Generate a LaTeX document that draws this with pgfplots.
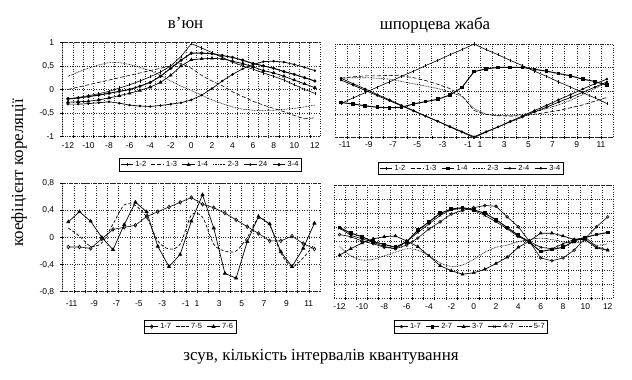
\documentclass[border=0pt]{standalone}
\usepackage{fontspec}
\setmainfont{Liberation Serif}
\newfontfamily\arial{Liberation Sans}
\usepackage{pgfplots}
\usepackage{pgfplotstable}
\pgfplotsset{compat=1.18}
\tikzset{gridline/.style={black!85, line width=0.45pt, dash pattern=on 0.9pt off 1.5pt}}
\pgfplotsset{
  legend image code/.code={\draw[mark repeat=2,mark phase=2,#1] plot coordinates {(0cm,0cm) (0.22cm,0cm) (0.44cm,0cm)};},
  panel/.style={
    scale only axis,
    anchor=south west,
    axis line style={gridline},
    tick label style={font=\arial\fontsize{8.5}{9}\selectfont},
    /pgf/number format/assume math mode=true,
    ymajorgrids, major grid style={gridline},
    major tick length=0pt,
    xtick pos=bottom, ytick pos=left,
    extra x tick labels={},
    extra x tick style={grid=major, tick align=center, major tick length=2.5pt, tick style={black, line width=0.4pt}},
    yticklabel style={xshift=-5bp},
    legend style={draw=black, line width=0.6pt, inner sep=1pt, row sep=-1pt, anchor=north,
      font=\arial\fontsize{7.5}{8}\selectfont, /tikz/every even column/.append style={column sep=3pt}},
    legend cell align=left,
  },
  yticksmarks/.style={extra y tick labels={},
    extra y tick style={major tick length=3pt, tick align=outside, tick style={black, line width=0.5pt}}},
  s12/.style={black, line width=0.6pt, mark=|, mark size=1.6pt, mark options={solid}},
  s13/.style={black, line width=0.6pt, dash pattern=on 4pt off 2pt},
  s14/.style={black, line width=0.7pt, mark=triangle*, mark size=1.6pt, mark options={solid}},
  s23/.style={black, line width=0.6pt, dash pattern=on 0.8pt off 0.8pt},
  s24/.style={black, line width=0.7pt, mark=*, mark size=0.9pt, mark options={solid}},
  s34/.style={black, line width=1pt, mark=*, mark size=1.1pt, mark options={solid}},
}

\pgfplotstableread{
x a12 a13 a14 a23 a24 a34
-12 -0.20 0.00 -0.27 0.28 -0.31 -0.20
-11 -0.17 0.05 -0.26 0.37 -0.31 -0.18
-10 -0.13 0.10 -0.25 0.45 -0.30 -0.15
-9 -0.09 0.15 -0.22 0.52 -0.28 -0.12
-8 -0.04 0.20 -0.18 0.57 -0.26 -0.08
-7 0.03 0.25 -0.13 0.57 -0.29 -0.04
-6 0.10 0.30 -0.08 0.53 -0.33 0.00
-5 0.18 0.35 -0.02 0.47 -0.35 0.07
-4 0.27 0.40 0.05 0.40 -0.36 0.15
-3 0.37 0.45 0.15 0.30 -0.34 0.28
-2 0.50 0.50 0.30 0.18 -0.31 0.45
-1 0.70 0.55 0.50 0.07 -0.28 0.62
0 0.97 0.45 0.63 -0.02 -0.22 0.77
1 0.88 0.30 0.65 -0.12 -0.12 0.77
2 0.78 0.18 0.66 -0.22 0.02 0.76
3 0.68 0.08 0.65 -0.30 0.18 0.72
4 0.58 -0.05 0.60 -0.37 0.32 0.68
5 0.50 -0.15 0.55 -0.42 0.44 0.62
6 0.43 -0.25 0.48 -0.44 0.53 0.55
7 0.35 -0.33 0.40 -0.45 0.59 0.50
8 0.28 -0.40 0.35 -0.44 0.60 0.45
9 0.20 -0.47 0.28 -0.42 0.58 0.38
10 0.10 -0.55 0.20 -0.40 0.53 0.32
11 0.00 -0.62 0.12 -0.37 0.47 0.25
12 -0.08 -0.60 0.04 -0.33 0.40 0.18
}\tabTL

\pgfplotstableread{
i a12 a13 a14 a23 a24 a34
0 -0.27 0.27 -0.25 0.27 0.27 0.23
1 -0.15 0.30 -0.28 0.28 0.15 0.12
2 -0.04 0.32 -0.32 0.28 0.04 0.01
3 0.08 0.32 -0.35 0.27 -0.08 -0.10
4 0.19 0.33 -0.36 0.25 -0.19 -0.21
5 0.31 0.32 -0.35 0.20 -0.31 -0.32
6 0.42 0.28 -0.28 0.15 -0.42 -0.43
7 0.54 0.22 -0.23 0.10 -0.54 -0.54
8 0.65 0.14 -0.18 0.05 -0.65 -0.65
9 0.77 0.05 -0.09 -0.02 -0.77 -0.76
10 0.88 -0.10 0.07 -0.12 -0.88 -0.87
11 1.00 -0.42 0.41 -0.38 -1.00 -0.98
12 0.88 -0.50 0.47 -0.50 -0.88 -0.87
13 0.77 -0.53 0.50 -0.53 -0.77 -0.77
14 0.65 -0.54 0.50 -0.53 -0.65 -0.66
15 0.54 -0.53 0.50 -0.50 -0.54 -0.56
16 0.42 -0.50 0.46 -0.45 -0.42 -0.45
17 0.31 -0.46 0.42 -0.38 -0.31 -0.35
18 0.19 -0.42 0.37 -0.30 -0.19 -0.24
19 0.08 -0.36 0.32 -0.20 -0.08 -0.14
20 -0.04 -0.30 0.25 -0.08 0.04 -0.03
21 -0.15 -0.22 0.20 0.05 0.15 0.08
22 -0.27 -0.14 0.12 0.17 0.25 0.19
}\tabTR

\pgfplotstableread{
i a17 a75 a76
0 -0.14 0.14 0.23
1 -0.14 0.02 0.38
2 -0.16 -0.13 0.24
3 -0.02 -0.08 0.00
4 0.12 0.20 -0.18
5 0.15 0.48 0.19
6 0.18 0.47 0.52
7 0.31 0.30 0.38
8 0.38 -0.05 -0.13
9 0.45 -0.17 -0.43
10 0.52 -0.10 -0.25
11 0.59 0.33 0.24
12 0.49 0.30 0.63
13 0.44 -0.10 0.14
14 0.36 -0.20 -0.53
15 0.26 -0.20 -0.60
16 0.16 0.00 -0.06
17 0.06 0.28 0.31
18 -0.05 0.18 0.20
19 -0.05 -0.23 -0.21
20 0.02 -0.43 -0.43
21 -0.09 -0.30 -0.16
22 -0.17 -0.10 0.21
}\tabBL

\pgfplotstableread{
x a17 a27 a37 a47 a57
-12 0.10 0.20 -0.19 0.19 -0.07
-11 0.07 0.12 -0.10 0.09 -0.20
-10 0.01 0.07 -0.02 0.04 -0.26
-9 -0.03 0.00 0.04 -0.01 -0.25
-8 -0.08 -0.04 0.07 -0.07 -0.20
-7 -0.10 -0.08 0.08 -0.10 -0.15
-6 -0.05 0.00 0.01 0.00 -0.10
-5 0.05 0.16 -0.07 0.13 -0.12
-4 0.18 0.28 -0.20 0.25 -0.20
-3 0.28 0.40 -0.34 0.37 -0.30
-2 0.39 0.46 -0.41 0.45 -0.35
-1 0.44 0.48 -0.46 0.47 -0.33
0 0.48 0.45 -0.44 0.44 -0.25
1 0.51 0.40 -0.39 0.37 -0.15
2 0.50 0.31 -0.31 0.28 -0.08
3 0.35 0.20 -0.22 0.18 -0.05
4 0.21 0.09 -0.08 0.07 0.00
5 0.00 -0.01 0.01 0.00 0.03
6 -0.23 -0.14 0.12 -0.08 0.05
7 -0.27 -0.11 0.12 -0.10 0.03
8 -0.23 -0.08 0.08 -0.03 0.00
9 -0.12 0.01 0.03 0.03 -0.02
10 0.05 0.06 0.03 0.06 0.00
11 0.21 0.10 -0.09 -0.07 -0.05
12 0.35 0.13 -0.12 -0.12 -0.03
}\tabBR

\begin{document}
\begin{tikzpicture}
\path[use as bounding box] (0,0) rectangle (632bp,380bp);

% top left
\begin{axis}[panel, yticksmarks, at={(62.7bp,243.3bp)}, width=257.3bp, height=94.4bp,
  xmin=-12.5, xmax=12.5, ymin=-1, ymax=1,
  xtick={-12,-10,...,12}, extra x ticks={-11.5,-10.5,...,11.5},
  xticklabel style={yshift=-2.5bp},
  ytick={-1,-0.5,0,0.5,1}, yticklabels={-1,{-0,5},0,{0,5},1},
  extra y ticks={-1,-0.5,0,0.5,1},
  legend style={at={(0.574,-0.2256)}, legend columns=6},
  legend entries={1-2,1-3,1-4,2-3,24,3-4}]
\addplot[s12] table[x=x,y=a12]{\tabTL};
\addplot[s13] table[x=x,y=a13]{\tabTL};
\addplot[s14] table[x=x,y=a14]{\tabTL};
\addplot[s23] table[x=x,y=a23]{\tabTL};
\addplot[s24] table[x=x,y=a24]{\tabTL};
\addplot[s34] table[x=x,y=a34]{\tabTL};
\draw[black, line width=0.7pt] (rel axis cs:0,0) -- (rel axis cs:0,1);
\end{axis}

% top right
\begin{axis}[panel, at={(335bp,242.3bp)}, width=278bp, height=93.7bp,
  xmin=-0.5, xmax=22.5, ymin=-1, ymax=1,
  xtick={0.3,2.3,4.3,6.3,8.4,10.5,11.5,13.5,15.5,17.5,19.5,21.5},
  xticklabels={-11,-9,-7,-5,-3,-1,1,3,5,7,9,11},
  extra x ticks={0.5,1.5,...,21.5},
  ytick={-1,-0.5,0,0.5,1}, yticklabels={},
  legend style={at={(0.4886,-0.256)}, legend columns=6},
  legend entries={1-2,1-3,1-4,2-3,2-4,3-4}]
\addplot[s12] table[x=i,y=a12]{\tabTR};
\addplot[s13] table[x=i,y=a13]{\tabTR};
\addplot[black, line width=1pt, mark=square*, mark size=1.3pt] table[x=i,y=a14]{\tabTR};
\addplot[s23] table[x=i,y=a23]{\tabTR};
\addplot[s24] table[x=i,y=a24]{\tabTR};
\addplot[s24] table[x=i,y=a34]{\tabTR};
\end{axis}

% bottom left
\begin{axis}[panel, yticksmarks, at={(62.7bp,88.3bp)}, width=257.3bp, height=108.4bp,
  xmin=-0.5, xmax=22.5, ymin=-0.8, ymax=0.8,
  xtick={0.3,2.3,4.3,6.3,8.4,10.5,11.5,13.5,15.5,17.5,19.5,21.5},
  xticklabels={-11,-9,-7,-5,-3,-1,1,3,5,7,9,11},
  xticklabel style={yshift=-5.5bp},
  extra x ticks={0.5,1.5,...,21.5},
  ytick={-0.8,-0.4,0,0.4,0.8}, yticklabels={{-0,8},{-0,4},0,{0,4},{0,8}},
  extra y ticks={-0.8,-0.4,0,0.4,0.8},
  legend style={at={(0.495,-0.261)}, legend columns=3},
  legend entries={1-7,7-5,7-6}]
\addplot[black, line width=0.6pt, mark=diamond, mark size=1.9pt, mark options={fill=white}] table[x=i,y=a17]{\tabBL};
\addplot[black, line width=0.7pt, dash pattern=on 3pt off 2pt, smooth] table[x=i,y=a75]{\tabBL};
\addplot[black, line width=0.7pt, mark=triangle*, mark size=1.8pt] table[x=i,y=a76]{\tabBL};
\draw[black, line width=0.7pt] (rel axis cs:0,0) -- (rel axis cs:0,1);
\end{axis}

% bottom right
\begin{axis}[panel, at={(334bp,81.7bp)}, width=279.3bp, height=113.3bp,
  xmin=-12.5, xmax=12.5, ymin=-0.8, ymax=0.8,
  xtick={-12,-10,...,12}, extra x ticks={-11.5,-10.5,...,11.5},
  xticklabel style={yshift=-1.5bp},
  ytick={-0.8,-0.6,...,0.8}, yticklabels={},
  legend style={at={(0.49,-0.1915)}, legend columns=5},
  legend entries={1-7,2-7,3-7,4-7,5-7}]
\addplot[black, line width=0.6pt, mark=o, mark size=1.4pt, mark options={fill=white}] table[x=x,y=a17]{\tabBR};
\addplot[black, line width=1pt, mark=square*, mark size=1.4pt] table[x=x,y=a27]{\tabBR};
\addplot[black, line width=0.7pt, mark=triangle*, mark size=1.6pt] table[x=x,y=a37]{\tabBR};
\addplot[black, line width=0.6pt, mark=x, mark size=1.6pt] table[x=x,y=a47]{\tabBR};
\addplot[black, line width=0.6pt, dash pattern=on 0.8pt off 0.8pt, smooth] table[x=x,y=a57]{\tabBR};
\end{axis}

\node[font=\fontsize{17}{19}\selectfont] at (185.6bp,357bp) {в’юн};
\node[font=\fontsize{17}{19}\selectfont] at (435bp,355bp) {шпорцева жаба};
\node[font=\fontsize{17}{19}\selectfont, rotate=90] at (19bp,207bp) {коефіцієнт кореляції};
\node[font=\fontsize{17}{19}\selectfont] at (321bp,23bp) {зсув, кількість інтервалів квантування};
\end{tikzpicture}
\end{document}
